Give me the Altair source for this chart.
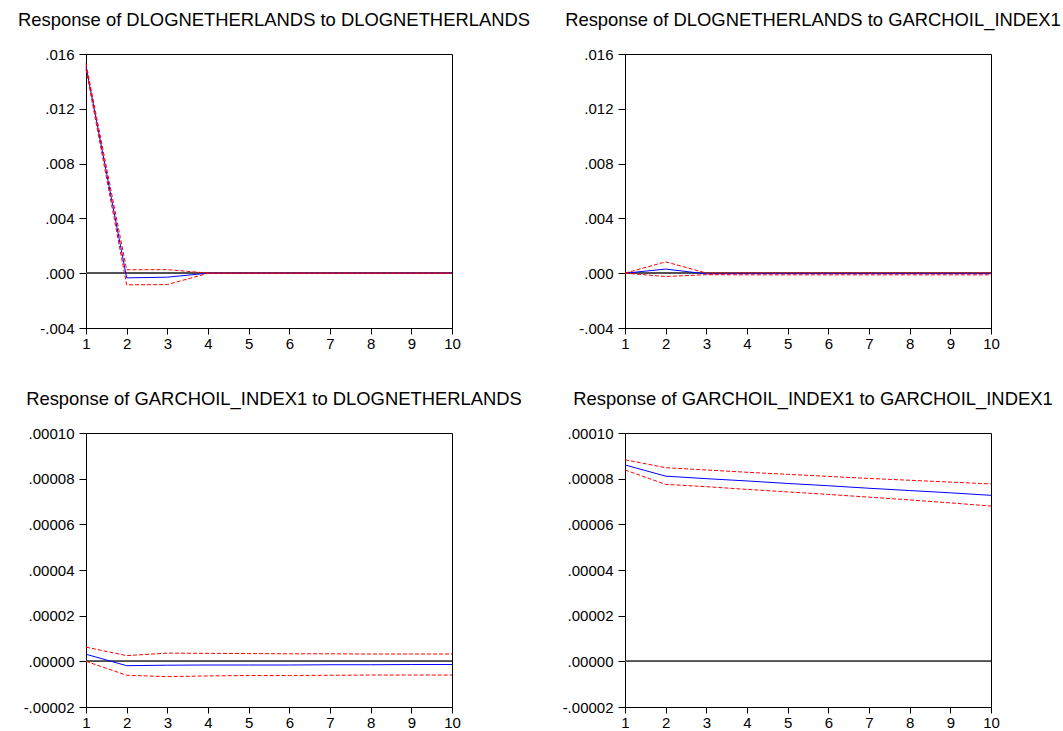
import altair as alt
import pandas as pd

periods = list(range(1, 11))

# Response of DLOGNETHERLANDS to DLOGNETHERLANDS
tl_resp = [0.01510, -0.00034, -0.00029, 0.0, 0.0, 0.0, 0.0, 0.0, 0.0, 0.0]
tl_upper = [0.01530, 0.00025, 0.00026, 0.00001, 0.0, 0.0, 0.0, 0.0, 0.0, 0.0]
tl_lower = [0.01490, -0.00085, -0.00083, -0.00001, 0.0, 0.0, 0.0, 0.0, 0.0, 0.0]

# Response of DLOGNETHERLANDS to GARCHOIL_INDEX1
tr_resp = [0.0, 0.00030, -0.00005, -0.00003, -0.00003, -0.00003, -0.00003, -0.00003, -0.00003, -0.00003]
tr_upper = [0.0, 0.00083, 0.00001, 0.00002, 0.00002, 0.00002, 0.00002, 0.00002, 0.00002, 0.00002]
tr_lower = [0.0, -0.00024, -0.00011, -0.00012, -0.00012, -0.00012, -0.00012, -0.00012, -0.00012, -0.00012]

# Response of GARCHOIL_INDEX1 to DLOGNETHERLANDS (units of 1e-5)
bl_resp = [0.31, -0.19, -0.17, -0.16, -0.16, -0.16, -0.15, -0.15, -0.14, -0.14]
bl_upper = [0.62, 0.25, 0.36, 0.35, 0.34, 0.33, 0.33, 0.32, 0.32, 0.32]
bl_lower = [0.0, -0.61, -0.67, -0.64, -0.62, -0.62, -0.61, -0.60, -0.60, -0.60]

# Response of GARCHOIL_INDEX1 to GARCHOIL_INDEX1 (units of 1e-5)
br_resp = [8.60, 8.11, 8.00, 7.90, 7.79, 7.69, 7.58, 7.48, 7.38, 7.27]
br_upper = [8.83, 8.48, 8.38, 8.28, 8.19, 8.10, 8.01, 7.93, 7.85, 7.77]
br_lower = [8.38, 7.75, 7.65, 7.53, 7.42, 7.31, 7.19, 7.07, 6.94, 6.80]

titles = [
    "Response of DLOGNETHERLANDS to DLOGNETHERLANDS",
    "Response of DLOGNETHERLANDS to GARCHOIL_INDEX1",
    "Response of GARCHOIL_INDEX1 to DLOGNETHERLANDS",
    "Response of GARCHOIL_INDEX1 to GARCHOIL_INDEX1",
]

top_ticks = [-0.004, 0.0, 0.004, 0.008, 0.012, 0.016]
bottom_ticks = [-0.00002, 0.0, 0.00002, 0.00004, 0.00006, 0.00008, 0.00010]

W, H = 366, 274


def scale(vals, f):
    return [v * f for v in vals]


def panel(title, resp, upper, lower, domain, ticks, digits):
    df_r = pd.DataFrame({"period": periods, "value": resp})
    df_b = pd.DataFrame({
        "period": periods + periods,
        "value": upper + lower,
        "band": ["upper"] * 10 + ["lower"] * 10,
    })
    xaxis = alt.Axis(values=periods, format="d", title=None, labelPadding=2,
                     tickSize=6, labelFlush=False)
    yaxis = alt.Axis(
        values=ticks, title=None, tickSize=7, labelPadding=5,
        labelExpr=("replace(replace(format(datum.value, '.%df'), '\u2212', '-'), '0.', '.')" % digits),
    )
    xs = alt.Scale(domain=[1, 10], nice=False, zero=False)
    ys = alt.Scale(domain=domain, nice=False, zero=False)

    zero = alt.Chart(df_r).mark_rule(color="#505050", strokeWidth=1).encode(
        y=alt.YDatum(0, scale=ys, axis=yaxis)
    )
    line = alt.Chart(df_r).mark_line(color="#0000ff", strokeWidth=1).encode(
        x=alt.X("period:Q", scale=xs, axis=xaxis),
        y=alt.Y("value:Q", scale=ys, axis=yaxis),
    )
    bands = alt.Chart(df_b).mark_line(color="#ff0000", strokeWidth=1, strokeDash=[4, 2]).encode(
        x=alt.X("period:Q", scale=xs, axis=xaxis),
        y=alt.Y("value:Q", scale=ys, axis=yaxis),
        detail="band:N",
    )
    return alt.layer(zero, line, bands).properties(
        width=W, height=H, title=alt.TitleParams(title, dx=5)
    )


p1 = panel(titles[0], tl_resp, tl_upper, tl_lower, [-0.004, 0.016], top_ticks, 3)
p2 = panel(titles[1], tr_resp, tr_upper, tr_lower, [-0.004, 0.016], top_ticks, 3)
p3 = panel(titles[2], scale(bl_resp, 1e-5), scale(bl_upper, 1e-5), scale(bl_lower, 1e-5),
           [-0.00002, 0.0001], bottom_ticks, 5)
p4 = panel(titles[3], scale(br_resp, 1e-5), scale(br_upper, 1e-5), scale(br_lower, 1e-5),
           [-0.00002, 0.0001], bottom_ticks, 5)

chart = alt.concat(
    p1, p2, p3, p4, columns=2,
    spacing=alt.RowColnumber(column=173, row=105),
    bounds="flush",
).properties(
    padding={"left": 17, "top": 10, "right": 0, "bottom": 0},
    background="white",
).configure_view(
    stroke="black", strokeWidth=1
).configure_axis(
    grid=False, domainColor="black", tickColor="black", labelColor="black",
    labelFont="Liberation Sans", labelFontSize=15, domainWidth=1, tickWidth=1,
).configure_title(
    font="Liberation Sans", fontSize=18.4, fontWeight="normal", color="black",
    anchor="middle", frame="group", offset=18, baseline="alphabetic",
)

chart.save("out.html", embed_options={"renderer": "svg", "actions": False})
